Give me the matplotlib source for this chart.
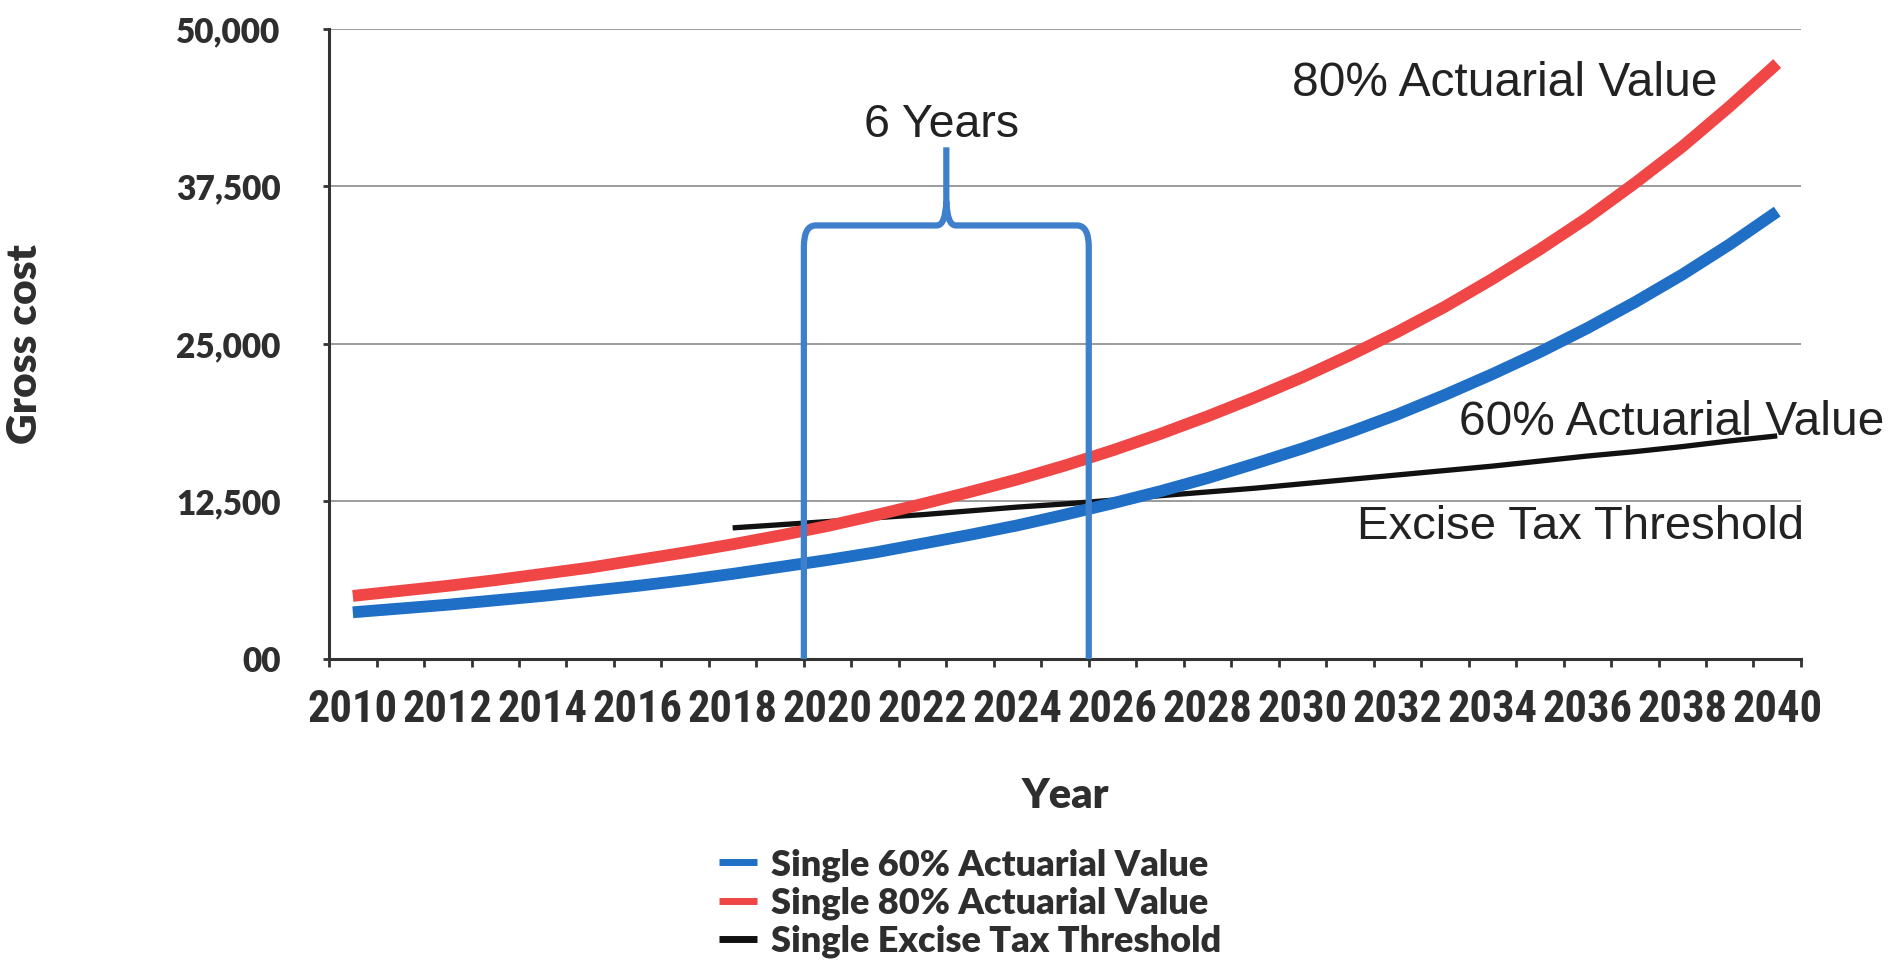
import matplotlib
matplotlib.use('Agg')
import matplotlib.pyplot as plt
from matplotlib.path import Path
from matplotlib.patches import PathPatch
from matplotlib.ticker import FixedLocator, FixedFormatter

# data
years = list(range(2010, 2041))
av60 = [3700, 4000, 4300, 4650, 5000, 5400, 5800, 6250, 6750, 7300, 7850,
        8450, 9150, 9850, 10600, 11450, 12350, 13300, 14350, 15500, 16700,
        18000, 19400, 20950, 22600, 24350, 26250, 28300, 30500, 32900, 35500]
av80 = [5000, 5400, 5800, 6250, 6750, 7250, 7850, 8450, 9100, 9800, 10550,
        11400, 12300, 13250, 14250, 15350, 16550, 17850, 19250, 20750, 22350,
        24100, 25950, 27950, 30150, 32500, 35000, 37750, 40650, 43850, 47250]
tax_years = list(range(2018, 2041))
tax = [10400, 10650, 10900, 11200, 11450, 11750, 12050, 12300, 12600, 12950,
       13250, 13550, 13900, 14250, 14600, 14950, 15300, 15700, 16100, 16450,
       16850, 17300, 17700]

y_ticks = [0, 12500, 25000, 37500, 50000]
y_labels = ['00', '12,500', '25,000', '37,500', '50,000']
x_labels = [str(y) for y in range(2010, 2041, 2)]

series_names = ['Single 60% Actuarial Value', 'Single 80% Actuarial Value',
                'Single Excise Tax Threshold']

# brace marking the 6 year gap
brace_left, brace_right = 2019.5, 2025.5
brace_top, brace_tip = 34400, 40600

blue = '#1f6fc6'
red = '#f04646'
brace_blue = '#3f80cc'
txt = '#2e2e2e'
axis_font = ['Lato', 'DejaVu Sans']
tick_font = ['Roboto Condensed', 'Lato', 'DejaVu Sans']
note_font = ['Liberation Sans', 'DejaVu Sans']

fig = plt.figure(figsize=(18.88, 9.69), dpi=100)
ax = fig.add_axes([0.1743, 0.320, 0.7796, 0.6502])

l3, = ax.plot(tax_years, tax, color='#111111', lw=3.8, solid_capstyle='butt', zorder=3)
l1, = ax.plot(years, av60, color=blue, lw=8.5, solid_capstyle='butt', zorder=4)
l2, = ax.plot(years, av80, color=red, lw=8.5, solid_capstyle='butt', zorder=5)

# brace
mid = (brace_left + brace_right) / 2
rx, ry = 0.25, 1700
cx, cy = 0.2, 1900
verts = [
    (brace_left, 0), (brace_left, brace_top - ry),
    (brace_left, brace_top), (brace_left + rx, brace_top),
    (mid - cx, brace_top),
    (mid - 0.02, brace_top), (mid, brace_top + cy),
    (mid, brace_tip),
    (brace_right, 0), (brace_right, brace_top - ry),
    (brace_right, brace_top), (brace_right - rx, brace_top),
    (mid + cx, brace_top),
    (mid + 0.02, brace_top), (mid, brace_top + cy),
]
codes = [Path.MOVETO, Path.LINETO, Path.CURVE3, Path.CURVE3, Path.LINETO,
         Path.CURVE3, Path.CURVE3, Path.LINETO,
         Path.MOVETO, Path.LINETO, Path.CURVE3, Path.CURVE3, Path.LINETO,
         Path.CURVE3, Path.CURVE3]
ax.add_patch(PathPatch(Path(verts, codes), facecolor='none', edgecolor=brace_blue,
                       lw=4.5, capstyle='butt', joinstyle='round', zorder=6))

# axes styling
ax.set_xlim(2009.5, 2040.5)
ax.set_ylim(0, 50000)
for s in ['top', 'right']:
    ax.spines[s].set_visible(False)
for s in ['left', 'bottom']:
    ax.spines[s].set_color('#333333')
    ax.spines[s].set_linewidth(2.2)

ax.yaxis.set_major_locator(FixedLocator(y_ticks))
ax.yaxis.set_major_formatter(FixedFormatter(y_labels))
ax.xaxis.set_major_locator(FixedLocator(list(range(2010, 2041, 2))))
ax.xaxis.set_major_formatter(FixedFormatter(x_labels))
ax.xaxis.set_minor_locator(FixedLocator([2009.5 + i for i in range(32)]))

ax.tick_params(axis='y', which='major', length=4, width=2, color='#333333',
               pad=31, labelsize=24, labelcolor=txt)
ax.tick_params(axis='x', which='major', length=0, pad=22, labelsize=32, labelcolor=txt)
ax.tick_params(axis='x', which='minor', length=6, width=2, color='#333333')
for lab in ax.get_yticklabels():
    lab.set_family(axis_font)
    lab.set_fontweight('heavy')
for lab in ax.get_xticklabels():
    lab.set_family(tick_font)
    lab.set_fontweight('bold')

ax.grid(axis='y', color='#8a8a8a', lw=1.2)
ax.set_axisbelow(True)

ax.set_ylabel('Gross cost', family=axis_font, fontweight='heavy', fontsize=30.5,
              color=txt, va='center')
ax.yaxis.set_label_coords(-0.2065, 0.5)
ax.set_xlabel('Year', family=axis_font, fontweight='heavy', fontsize=30,
              color=txt, va='center')
ax.xaxis.set_label_coords(0.5, -0.218)

# annotations
ax.text(2038.75, 45700, '80% Actuarial Value', family=note_font, fontsize=34.5,
        color='#222222', ha='right', va='center')
ax.text(2033.3, 18800, '60% Actuarial Value', family=note_font, fontsize=34.5,
        color='#222222', ha='left', va='center')
ax.text(2031.15, 10500, 'Excise Tax Threshold', family=note_font, fontsize=34,
        color='#222222', ha='left', va='center')
ax.text(2022.4, 42400, '6 Years', family=note_font, fontsize=33.5,
        color='#222222', ha='center', va='center')

leg = ax.legend([l1, l2, l3], series_names, loc='upper left',
                bbox_to_anchor=(719 / 1888, 1 - 848 / 969),
                bbox_transform=fig.transFigure, frameon=False,
                prop={'family': axis_font, 'weight': 'heavy', 'size': 26},
                handlelength=1.05, handletextpad=0.4, labelspacing=0.13,
                borderpad=0, borderaxespad=0)
for t in leg.get_texts():
    t.set_color(txt)
for h in leg.get_lines():
    h.set_linewidth(5)

fig.savefig('out.png', dpi=100)
